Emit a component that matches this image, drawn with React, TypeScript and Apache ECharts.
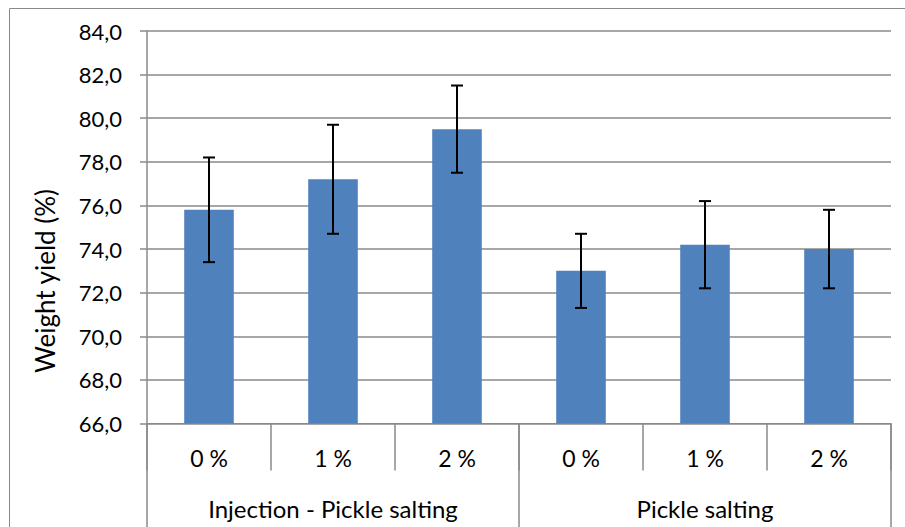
import React, { useEffect, useRef } from "react";
import * as echarts from "echarts";

const subCategories = ["0 %", "1 %", "2 %", "0 %", "1 %", "2 %"];
const groupCategories = ["Injection - Pickle salting", "Pickle salting"];
const yieldValues = [75.8, 77.2, 79.5, 73.0, 74.2, 74.0];
const yieldErrors = [2.4, 2.5, 2.0, 1.7, 2.0, 1.8];
const yTitle = "Weight yield (%)";

const FONT = "Lato";

export default function App() {
  const ref = useRef<HTMLDivElement>(null);
  useEffect(() => {
    if (!ref.current) return;
    const chart = echarts.init(ref.current, null, { renderer: "svg" });
    const errData = yieldValues.map((v, i) => [i, v - yieldErrors[i], v + yieldErrors[i]]);
    chart.setOption({
      animation: false,
      backgroundColor: "#ffffff",
      grid: { left: 147, right: 14, top: 31, bottom: 103.5 },
      graphic: [
        {
          type: "rect",
          left: 7,
          top: 6,
          shape: { x: 0, y: 0, width: 920, height: 540 },
          style: { fill: "none", stroke: "#8a8a8a", lineWidth: 1 },
          silent: true,
        },
        {
          type: "text",
          x: 45,
          y: 281,
          rotation: Math.PI / 2,
          style: {
            text: yTitle,
            fontFamily: FONT,
            fontSize: 26,
            fill: "#000",
            align: "center",
            verticalAlign: "middle",
          },
        },
      ],
      xAxis: [
        {
          type: "category",
          data: subCategories,
          position: "bottom",
          axisLine: { show: true, lineStyle: { color: "#8a8a8a", width: 1 } },
          axisTick: { show: true, length: 47, interval: 0, lineStyle: { color: "#8a8a8a", width: 1.5 } },
          axisLabel: { interval: 0, margin: 23, color: "#000", fontFamily: FONT, fontSize: 23 },
        },
        {
          type: "category",
          data: groupCategories,
          position: "bottom",
          axisLine: { show: false },
          axisTick: { show: true, length: 110, interval: 0, lineStyle: { color: "#8a8a8a", width: 1.5 } },
          axisLabel: { interval: 0, margin: 73, color: "#000", fontFamily: FONT, fontSize: 24 },
        },
      ],
      yAxis: {
        type: "value",
        min: 66,
        max: 84,
        interval: 2,
        axisLine: { show: true, lineStyle: { color: "#8a8a8a", width: 1.5 } },
        axisTick: { show: true, length: 7, lineStyle: { color: "#8a8a8a", width: 1.5 } },
        axisLabel: {
          margin: 25,
          color: "#000",
          fontFamily: FONT,
          fontSize: 22,
          formatter: (v: number) => v.toFixed(1).replace(".", ","),
        },
        splitLine: { show: true, lineStyle: { color: "#8a8a8a", width: 1.5 } },
      },
      series: [
        {
          type: "bar",
          xAxisIndex: 0,
          data: yieldValues,
          barWidth: "40%",
          itemStyle: { color: "#4F81BD" },
        },
        {
          type: "custom",
          xAxisIndex: 0,
          data: errData,
          z: 10,
          renderItem: (params: any, api: any) => {
            const x = api.value(0);
            const lo = api.coord([x, api.value(1)]);
            const hi = api.coord([x, api.value(2)]);
            const cap = 6;
            const style = { stroke: "#000", lineWidth: 2 };
            return {
              type: "group",
              children: [
                { type: "line", shape: { x1: hi[0], y1: hi[1], x2: lo[0], y2: lo[1] }, style },
                { type: "line", shape: { x1: hi[0] - cap, y1: hi[1], x2: hi[0] + cap, y2: hi[1] }, style },
                { type: "line", shape: { x1: lo[0] - cap, y1: lo[1], x2: lo[0] + cap, y2: lo[1] }, style },
              ],
            };
          },
        },
      ],
    });
    return () => chart.dispose();
  }, []);
  return (
    <div
      ref={ref}
      style={{ position: "fixed", left: 0, top: 0, width: 905, height: 527 }}
    />
  );
}
